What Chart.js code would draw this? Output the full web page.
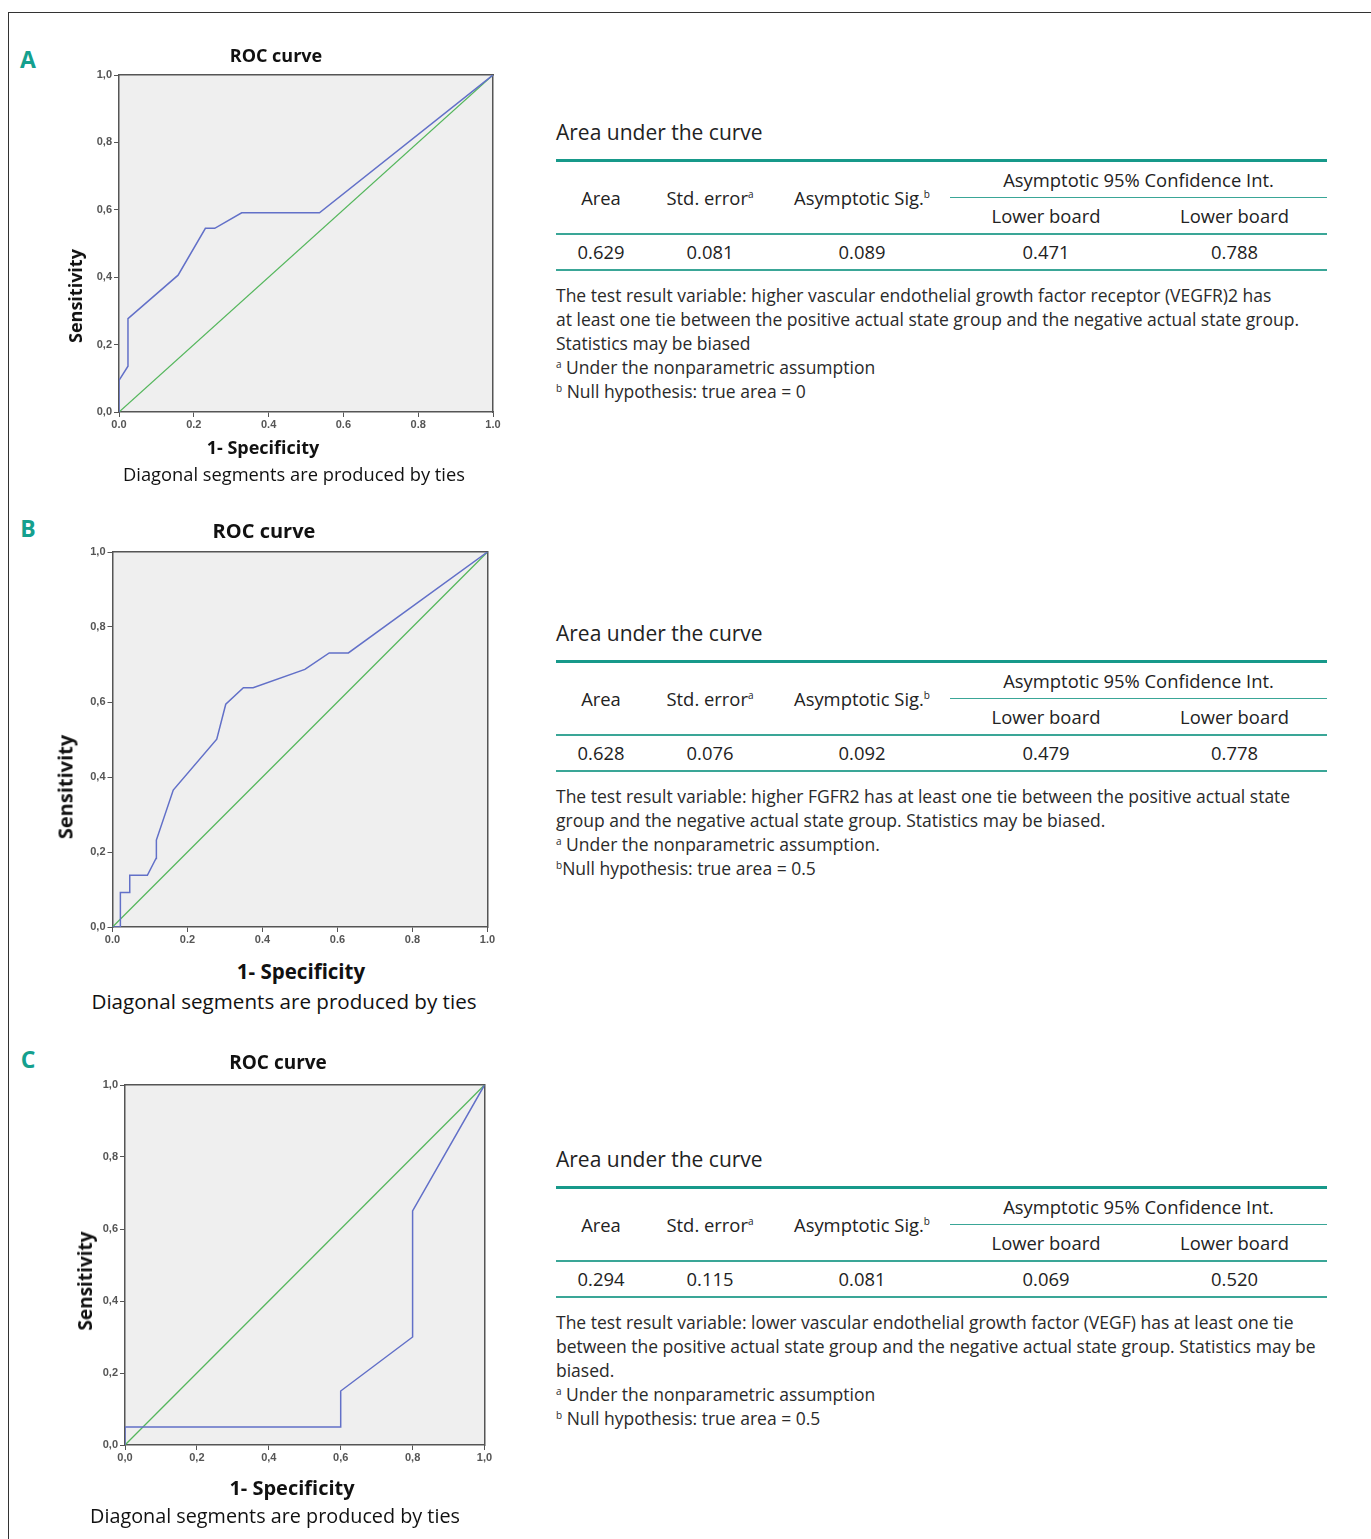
<!DOCTYPE html>
<html>
<head>
<meta charset="utf-8">
<script src="https://cdn.jsdelivr.net/npm/chart.js@4.4.0/dist/chart.umd.min.js"></script>
<style>
body { margin:0; width:1371px; height:1539px; overflow:hidden; background:#fff; position:relative; font-family:"Open Sans", sans-serif; }
.frame { position:absolute; left:8px; top:12px; width:1400px; height:1600px; border:1px solid #333; }
.panel { position:absolute; transform:translate(-50%,-50%); color:#14a08e; font-weight:700; font-size:23px; }
.lbl { position:absolute; transform:translate(-50%,-50%); white-space:nowrap; color:#111; }
.lbl.b { font-weight:700; }
.lbl.rot { transform:translate(-50%,-50%) rotate(-90deg); }
canvas { position:absolute; }
.auc { position:absolute; left:556px; width:771px; color:#222; }
.auc h3 { margin:0; font-weight:400; font-size:21px; line-height:28px; height:41px; }
.auc table { border-collapse:separate; border-spacing:0; width:771px; border-top:3px solid #17998a; font-size:18.4px; text-align:center; }
.auc td { padding:0; box-sizing:border-box; white-space:nowrap; }
.auc .r1 td { height:36px; }
.auc .r2 td { height:37px; }
.auc .r3 td { height:36px; }
.auc .cut { border-bottom:1px solid #3aa697; }
.auc .ln { border-bottom:2px solid #3aa697; }
.auc sup { font-size:10px; vertical-align:7px; line-height:0; }
.notes { margin-top:12px; font-size:17.5px; line-height:24px; white-space:nowrap; color:#2a2a2a; }
.notes sup { font-size:10px; vertical-align:6px; line-height:0; }
</style>
</head>
<body>
<div class="frame"></div>

<div class="panel" style="left:28px;top:59px">A</div>
<div class="panel" style="left:28px;top:528px">B</div>
<div class="panel" style="left:28px;top:1059px">C</div>

<canvas id="rocA" width="460" height="382" style="left:60px;top:60px"></canvas>
<canvas id="rocB" width="460" height="422" style="left:50px;top:535px"></canvas>
<canvas id="rocC" width="460" height="410" style="left:60px;top:1065px"></canvas>

<div class="lbl b" style="left:276px;top:55px;font-size:18px">ROC curve</div>
<div class="lbl b rot" style="left:75px;top:296px;font-size:18px">Sensitivity</div>
<div class="lbl b" style="left:263px;top:447px;font-size:18px">1- Specificity</div>
<div class="lbl" style="left:294px;top:473px;font-size:18.3px">Diagonal segments are produced by ties</div>

<div class="lbl b" style="left:264px;top:530px;font-size:20px">ROC curve</div>
<div class="lbl b rot" style="left:65px;top:787px;font-size:20px">Sensitivity</div>
<div class="lbl b" style="left:301px;top:971px;font-size:20.5px">1- Specificity</div>
<div class="lbl" style="left:284px;top:1001px;font-size:20.6px">Diagonal segments are produced by ties</div>

<div class="lbl b" style="left:278px;top:1062px;font-size:19px">ROC curve</div>
<div class="lbl b rot" style="left:85px;top:1281px;font-size:19px">Sensitivity</div>
<div class="lbl b" style="left:292px;top:1487px;font-size:20px">1- Specificity</div>
<div class="lbl" style="left:275px;top:1515px;font-size:19.8px">Diagonal segments are produced by ties</div>

<div class="auc" id="aucA" style="top:117.5px"></div>
<div class="auc" id="aucB" style="top:618.5px"></div>
<div class="auc" id="aucC" style="top:1144.5px"></div>

<script>
// axis ticks shared by all three plots
const ticks = [0, 0.2, 0.4, 0.6, 0.8, 1];
// chance line
const refX = [0, 1];
const refY = [0, 1];

// A - VEGFR2
const fprA = [0, 0, 0.024, 0.024, 0.158, 0.231, 0.256, 0.328, 0.536, 1];
const tprA = [0, 0.094, 0.136, 0.277, 0.406, 0.545, 0.545, 0.591, 0.591, 1];
// B - FGFR2
const fprB = [0, 0.021, 0.021, 0.046, 0.046, 0.093, 0.116, 0.117, 0.162, 0.278, 0.302, 0.349, 0.375, 0.513, 0.578, 0.629, 1];
const tprB = [0, 0, 0.092, 0.092, 0.138, 0.138, 0.183, 0.232, 0.365, 0.501, 0.594, 0.638, 0.638, 0.687, 0.731, 0.731, 1];
// C - VEGF
const fprC = [0, 0, 0.6, 0.6, 0.8, 0.8, 1];
const tprC = [0, 0.05, 0.05, 0.15, 0.3, 0.65, 1];

// area under the curve tables
const aucA = ['0.629', '0.081', '0.089', '0.471', '0.788'];
const aucB = ['0.628', '0.076', '0.092', '0.479', '0.778'];
const aucC = ['0.294', '0.115', '0.081', '0.069', '0.520'];

const notesA = [
  'The test result variable: higher vascular endothelial growth factor receptor (VEGFR)2 has',
  'at least one tie between the positive actual state group and the negative actual state group.',
  'Statistics may be biased',
  '<sup>a</sup> Under the nonparametric assumption',
  '<sup>b</sup> Null hypothesis: true area = 0'
];
const notesB = [
  'The test result variable: higher FGFR2 has at least one tie between the positive actual state',
  'group and the negative actual state group. Statistics may be biased.',
  '<sup>a</sup> Under the nonparametric assumption.',
  '<sup>b</sup>Null hypothesis: true area = 0.5'
];
const notesC = [
  'The test result variable: lower vascular endothelial growth factor (VEGF) has at least one tie',
  'between the positive actual state group and the negative actual state group. Statistics may be',
  'biased.',
  '<sup>a</sup> Under the nonparametric assumption',
  '<sup>b</sup> Null hypothesis: true area = 0.5'
];

function aucTable(id, vals, notes) {
  let html = '<h3>Area under the curve</h3><table>' +
    '<colgroup><col style="width:90px"><col style="width:128px"><col style="width:176px"><col style="width:192px"><col style="width:185px"></colgroup>' +
    '<tr class="r1"><td rowspan="2" class="ln">Area</td><td rowspan="2" class="ln">Std. error<sup>a</sup></td>' +
    '<td rowspan="2" class="ln">Asymptotic Sig.<sup>b</sup></td><td colspan="2" class="cut">Asymptotic 95% Confidence Int.</td></tr>' +
    '<tr class="r2"><td class="ln">Lower board</td><td class="ln">Lower board</td></tr><tr class="r3">';
  vals.forEach(v => { html += '<td class="ln">' + v + '</td>'; });
  html += '</tr></table><div class="notes">' + notes.join('<br>') + '</div>';
  document.getElementById(id).innerHTML = html;
}
aucTable('aucA', aucA, notesA);
aucTable('aucB', aucB, notesB);
aucTable('aucC', aucC, notesC);

// grey plot background
const plotBg = {
  id: 'plotBg',
  beforeDraw(chart) {
    const a = chart.chartArea;
    chart.ctx.save();
    chart.ctx.fillStyle = '#efefef';
    chart.ctx.fillRect(a.left, a.top, a.width, a.height);
    chart.ctx.restore();
  }
};

const dot = v => v.toFixed(1);
const comma = v => v.toFixed(1).replace('.', ',');
const tickFont = { family: '"Liberation Sans", Arial, sans-serif', size: 11, weight: 'bold' };

function rocChart(id, fpr, tpr, yAxisW, padTop, padRight, fmtX, fmtY) {
  const ctx = document.getElementById(id);
  const curve = fpr.map((x, i) => ({ x: x, y: tpr[i] }));
  const diag = refX.map((x, i) => ({ x: x, y: refY[i] }));
  const frame = { color: '#555', width: 1.5 };
  return new Chart(ctx, {
    type: 'scatter',
    data: {
      datasets: [
        { data: curve, showLine: true, borderColor: 'rgb(98,112,200)', borderWidth: 1.5, pointRadius: 0, order: 1 },
        { data: diag, showLine: true, borderColor: 'rgb(84,182,92)', borderWidth: 1.3, pointRadius: 0, order: 2 }
      ]
    },
    options: {
      responsive: false,
      animation: false,
      layout: { padding: { left: 0, top: padTop, right: padRight, bottom: 0 } },
      plugins: { legend: { display: false }, tooltip: { enabled: false } },
      scales: {
        x: {
          type: 'linear', position: 'bottom', min: 0, max: 1,
          afterBuildTicks: s => { s.ticks = ticks.map(v => ({ value: v })); },
          ticks: { callback: fmtX, font: tickFont, color: '#555', padding: 1, maxRotation: 0, autoSkip: false },
          grid: { drawOnChartArea: false, tickLength: 5, color: '#555' },
          border: frame,
          afterFit: s => { s.height = 30; }
        },
        y: {
          type: 'linear', position: 'left', min: 0, max: 1,
          afterBuildTicks: s => { s.ticks = ticks.map(v => ({ value: v })); },
          ticks: { callback: fmtY, font: tickFont, color: '#555', padding: 2, autoSkip: false },
          grid: { drawOnChartArea: false, tickLength: 5, color: '#555' },
          border: frame,
          afterFit: s => { s.width = yAxisW; }
        },
        x2: {
          type: 'linear', position: 'top', min: 0, max: 1,
          ticks: { display: false },
          grid: { drawOnChartArea: false, drawTicks: false },
          border: frame,
          afterFit: s => { s.height = 0; }
        },
        y2: {
          type: 'linear', position: 'right', min: 0, max: 1,
          ticks: { display: false },
          grid: { drawOnChartArea: false, drawTicks: false },
          border: frame,
          afterFit: s => { s.width = 0; }
        }
      }
    },
    plugins: [plotBg]
  });
}

rocChart('rocA', fprA, tprA, 59, 15, 27, dot, comma);
rocChart('rocB', fprB, tprB, 62.5, 17, 22.5, dot, comma);
rocChart('rocC', fprC, tprC, 65, 20, 35.5, comma, comma);
</script>
</body>
</html>
